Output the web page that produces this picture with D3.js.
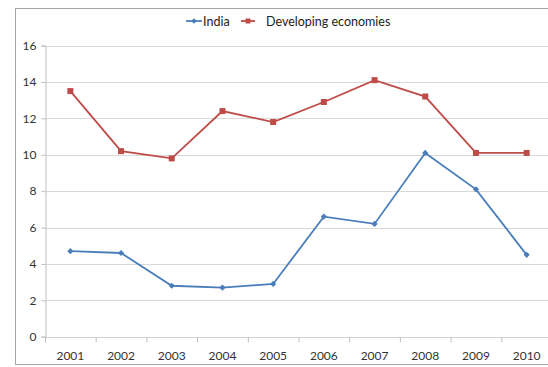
<!DOCTYPE html>
<html>
<head>
<meta charset="utf-8">
<script src="https://cdn.jsdelivr.net/npm/d3@7"></script>
<style>
  html, body { margin: 0; padding: 0; background: #fff; }
  svg { display: block; font-family: Lato, "Open Sans", sans-serif; }
</style>
</head>
<body>
<svg id="chart" width="548" height="367"></svg>
<script>
// Series data
const years = ["2001","2002","2003","2004","2005","2006","2007","2008","2009","2010"];
const india = [4.7, 4.6, 2.8, 2.7, 2.9, 6.6, 6.2, 10.1, 8.1, 4.5];
const developing = [13.5, 10.2, 9.8, 12.4, 11.8, 12.9, 14.1, 13.2, 10.1, 10.1];
const yTicks = [0, 2, 4, 6, 8, 10, 12, 14, 16];
const seriesNames = ["India", "Developing economies"];

const blue = "#4a7ebb", red = "#be4b48";
const svg = d3.select("#chart");

// Outer chart frame
svg.append("rect")
  .attr("x", 15.5).attr("y", 8.5)
  .attr("width", 560).attr("height", 356)
  .attr("fill", "#fff").attr("stroke", "#a6a6a6").attr("stroke-width", 1);

const plotLeft = 45, plotTop = 45.6, plotBottom = 336.7;
const band = 50.7;
const x = d3.scaleBand().domain(years).range([plotLeft, plotLeft + band * years.length]);
const y = d3.scaleLinear().domain([0, 16]).range([plotBottom, plotTop]);

// Horizontal gridlines
svg.append("g").selectAll("line").data(yTicks.filter(d => d > 0)).join("line")
  .attr("x1", plotLeft).attr("x2", 560)
  .attr("y1", d => Math.round(y(d)) + 0.5).attr("y2", d => Math.round(y(d)) + 0.5)
  .attr("stroke", "#d9d9d9").attr("stroke-width", 1.2);

// Y axis
const yAxis = svg.append("g")
  .attr("transform", `translate(${plotLeft + 0.5},0)`)
  .call(d3.axisLeft(y).tickValues(yTicks).tickSize(4).tickPadding(5));
yAxis.select(".domain").attr("stroke", "#bfbfbf");
yAxis.selectAll(".tick line").attr("stroke", "#bfbfbf");
yAxis.selectAll(".tick text").attr("fill", "#333").style("font-size", "12px")
  .style("font-family", "Lato, 'Open Sans', sans-serif");

// X axis with ticks at category boundaries
const xAxisG = svg.append("g").attr("transform", `translate(0,${Math.round(plotBottom) + 0.5})`);
xAxisG.append("line").attr("x1", plotLeft).attr("x2", 560).attr("stroke", "#d0d0d0");
xAxisG.selectAll("line.tk").data(years).join("line").attr("class", "tk")
  .attr("x1", d => x(d) + 0.5).attr("x2", d => x(d) + 0.5)
  .attr("y1", 0).attr("y2", 5).attr("stroke", "#bfbfbf");
xAxisG.selectAll("text").data(years).join("text")
  .attr("x", d => x(d) + x.bandwidth() / 2)
  .attr("y", 22)
  .attr("text-anchor", "middle")
  .attr("fill", "#333").style("font-size", "12px")
  .text(d => d);

// Lines
const line = d3.line().x((d, i) => x(years[i]) + x.bandwidth() / 2).y(d => y(d));
svg.append("path").datum(developing).attr("d", line)
  .attr("fill", "none").attr("stroke", red).attr("stroke-width", 1.8);
svg.append("path").datum(india).attr("d", line)
  .attr("fill", "none").attr("stroke", blue).attr("stroke-width", 1.8);

// Markers: squares for developing economies, diamonds for India
svg.append("g").selectAll("rect").data(developing).join("rect")
  .attr("x", (d, i) => x(years[i]) + x.bandwidth() / 2 - 3)
  .attr("y", d => y(d) - 3)
  .attr("width", 6).attr("height", 6).attr("fill", red);
svg.append("g").selectAll("rect").data(india).join("rect")
  .attr("x", -2.2).attr("y", -2.2).attr("width", 4.4).attr("height", 4.4)
  .attr("transform", (d, i) => `translate(${x(years[i]) + x.bandwidth() / 2},${y(d)}) rotate(45)`)
  .attr("fill", blue);

// Legend
const lg = svg.append("g").attr("transform", "translate(0,21)");
lg.append("line").attr("x1", 186).attr("x2", 202).attr("stroke", blue).attr("stroke-width", 1.8);
lg.append("rect").attr("x", -2).attr("y", -2).attr("width", 4).attr("height", 4)
  .attr("transform", "translate(194,0) rotate(45)").attr("fill", blue);
lg.append("text").attr("x", 203).attr("y", 4.5).attr("fill", "#222").style("font-size", "12.5px").text(seriesNames[0]);
lg.append("line").attr("x1", 241).attr("x2", 255).attr("stroke", red).attr("stroke-width", 1.8);
lg.append("rect").attr("x", 245.5).attr("y", -2.5).attr("width", 5).attr("height", 5).attr("fill", red);
lg.append("text").attr("x", 266).attr("y", 4.5).attr("fill", "#222").style("font-size", "12.5px").text(seriesNames[1]);
</script>
</body>
</html>
